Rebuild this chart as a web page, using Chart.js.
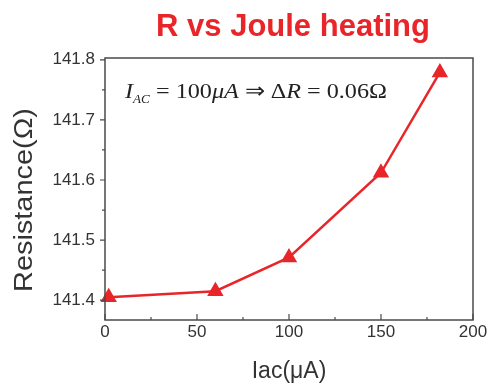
<!DOCTYPE html>
<html><head><meta charset="utf-8">
<script src="https://cdn.jsdelivr.net/npm/chart.js@4/dist/chart.umd.min.js"></script>
<style>html,body{margin:0;padding:0;background:#fff}#wrap{width:490px;height:385px}</style>
</head><body><div id="wrap"><canvas id="c" width="490" height="385"></canvas></div>
<script>
const titleText = "R vs Joule heating";
const xTitle = "Iac(\u03BCA)";
const yTitle = "Resistance(\u03A9)";
const currents = [2, 60, 100, 150, 182];
const resistance = [141.405, 141.415, 141.471, 141.612, 141.779];
const xTicks = [0, 50, 100, 150, 200];
const yTicks = [141.4, 141.5, 141.6, 141.7, 141.8];
const xMinor = [25, 75, 125, 175];
const yMinor = [141.45, 141.55, 141.65, 141.75];

const RED = '#e8262a';
const AX = '#4a4a4a';

const deco = {
  id: 'deco',
  afterDraw(chart) {
    const ctx = chart.ctx, a = chart.chartArea;
    const xs = chart.scales.x, ys = chart.scales.y;
    ctx.save();
    // frame
    ctx.strokeStyle = AX; ctx.lineWidth = 1.5;
    ctx.strokeRect(a.left, a.top, a.right - a.left, a.bottom - a.top);
    // y ticks (outward)
    ctx.lineWidth = 1.2;
    ctx.beginPath();
    yTicks.forEach(v => { const p = ys.getPixelForValue(v); ctx.moveTo(a.left, p); ctx.lineTo(a.left - 5, p); });
    yMinor.forEach(v => { const p = ys.getPixelForValue(v); ctx.moveTo(a.left, p); ctx.lineTo(a.left - 3, p); });
    // x ticks (inward)
    xTicks.forEach(v => { const p = xs.getPixelForValue(v); ctx.moveTo(p, a.bottom); ctx.lineTo(p, a.bottom - 6); });
    xMinor.forEach(v => { const p = xs.getPixelForValue(v); ctx.moveTo(p, a.bottom); ctx.lineTo(p, a.bottom - 3); });
    ctx.stroke();
    // title
    ctx.fillStyle = RED;
    ctx.font = 'bold 31px "Liberation Sans", Arial, sans-serif';
    ctx.textAlign = 'center'; ctx.textBaseline = 'alphabetic';
    ctx.fillText(titleText, 293, 36);
    // y axis title
    ctx.save();
    ctx.font = '25px "Liberation Sans", Arial, sans-serif';
    const yw = ctx.measureText(yTitle).width;
    ctx.translate(32, 200);
    ctx.rotate(-Math.PI / 2);
    ctx.scale(184 / yw, 1);
    ctx.fillStyle = '#333'; ctx.textAlign = 'center';
    ctx.fillText(yTitle, 0, 0);
    ctx.restore();
    // annotation
    const parts = [
      {t: 'I', f: 'italic 22px "Liberation Serif", serif', dy: 0},
      {t: 'AC', f: 'italic 12px "Liberation Serif", serif', dy: 5},
      {t: ' = 100', f: '22px "Liberation Serif", serif', dy: 0},
      {t: '\u03BCA', f: 'italic 22px "Liberation Serif", serif', dy: 0},
      {t: ' \u21D2 \u0394', f: '22px "Liberation Serif", serif', dy: 0},
      {t: 'R', f: 'italic 22px "Liberation Serif", serif', dy: 0},
      {t: ' = 0.06\u03A9', f: '22px "Liberation Serif", serif', dy: 0}
    ];
    let total = 0;
    parts.forEach(p => { ctx.font = p.f; p.w = ctx.measureText(p.t).width; total += p.w; });
    const x0 = 125, target = 262, base = 98;
    ctx.translate(x0, base);
    ctx.scale(target / total, 1);
    ctx.fillStyle = '#222'; ctx.textAlign = 'left';
    let cx = 0;
    parts.forEach(p => { ctx.font = p.f; ctx.fillText(p.t, cx, p.dy); cx += p.w; });
    ctx.restore();
  }
};

new Chart(document.getElementById('c'), {
  type: 'line',
  data: {
    datasets: [{
      data: currents.map((x, i) => ({x, y: resistance[i]})),
      borderColor: RED, backgroundColor: RED, borderWidth: 2.5,
      pointStyle: 'triangle', pointRadius: 7, pointBorderColor: RED, pointBackgroundColor: RED,
      tension: 0, clip: false
    }]
  },
  options: {
    responsive: false, animation: false,
    layout: {padding: {top: 58, right: 17, left: 0, bottom: 0}},
    plugins: {legend: {display: false}, tooltip: {enabled: false}},
    scales: {
      x: {
        type: 'linear', min: 0, max: 200,
        afterBuildTicks: s => { s.ticks = xTicks.map(v => ({value: v})); },
        afterFit: s => { s.height = 65; },
        grid: {display: false}, border: {display: false},
        ticks: {color: '#333', font: {family: '"Liberation Sans", Arial, sans-serif', size: 17}, padding: -6, maxRotation: 0},
        title: {display: true, text: xTitle, color: '#333', font: {family: '"Liberation Sans", Arial, sans-serif', size: 23}, padding: {top: 14, bottom: 0}}
      },
      y: {
        type: 'linear', min: 141.367, max: 141.803,
        afterBuildTicks: s => { s.ticks = yTicks.map(v => ({value: v})); },
        afterFit: s => { s.width = 105; },
        grid: {display: false}, border: {display: false},
        ticks: {color: '#333', font: {family: '"Liberation Sans", Arial, sans-serif', size: 17}, padding: 2, callback: v => v.toFixed(1)},
        title: {display: false}
      }
    }
  },
  plugins: [deco]
});
</script></body></html>
